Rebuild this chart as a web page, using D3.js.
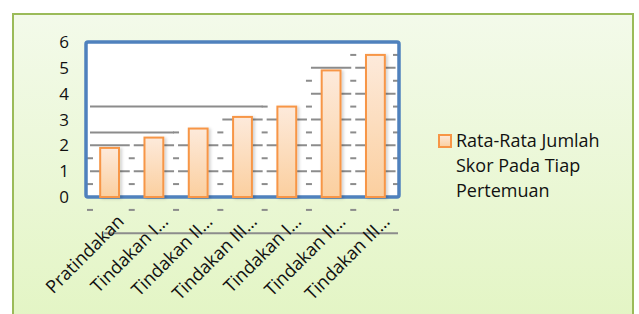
<!DOCTYPE html>
<html>
<head>
<meta charset="utf-8">
<script src="https://cdn.jsdelivr.net/npm/d3@7"></script>
<style>
  body { margin: 0; background: #fff; }
  text { font-family: "Open Sans", "Noto Sans", sans-serif; fill: #111; }
</style>
</head>
<body>
<svg id="chart" width="639" height="314"></svg>
<script>
// chart values
const categories = ['Pratindakan', 'Tindakan I…', 'Tindakan II…', 'Tindakan III…',
  'Tindakan I…', 'Tindakan II…', 'Tindakan III…'];
const scores = [1.9, 2.3, 2.65, 3.1, 3.5, 4.9, 5.5];
const yTicks = [0, 1, 2, 3, 4, 5, 6];
const legendLines = ['Rata-Rata Jumlah', 'Skor Pada Tiap', 'Pertemuan'];

const svg = d3.select('#chart');
const defs = svg.append('defs');

const bg = defs.append('linearGradient').attr('id', 'bg')
  .attr('x1', 0).attr('y1', 0).attr('x2', 0).attr('y2', 1);
bg.append('stop').attr('offset', '0%').attr('stop-color', '#f3faea');
bg.append('stop').attr('offset', '100%').attr('stop-color', '#e3f5c4');

const barGrad = defs.append('linearGradient').attr('id', 'barGrad')
  .attr('x1', 0).attr('y1', 0).attr('x2', 0).attr('y2', 1);
barGrad.append('stop').attr('offset', '0%').attr('stop-color', '#fdeadb');
barGrad.append('stop').attr('offset', '100%').attr('stop-color', '#fbcf9f');

const shadow = defs.append('filter').attr('id', 'shadow')
  .attr('x', '-30%').attr('y', '-10%').attr('width', '160%').attr('height', '130%');
shadow.append('feDropShadow').attr('dx', 2).attr('dy', 1).attr('stdDeviation', 1.5)
  .attr('flood-color', '#000').attr('flood-opacity', 0.18);

// outer chart frame
svg.append('rect')
  .attr('x', 13).attr('y', 14).attr('width', 620).attr('height', 310)
  .attr('fill', 'url(#bg)').attr('stroke', '#9bbb59').attr('stroke-width', 2);

const plot = {left: 86, right: 399, top: 42, bottom: 197};

const x = d3.scaleBand()
  .domain(d3.range(categories.length))
  .range([plot.left, plot.right])
  .paddingInner(0.575)
  .paddingOuter(0.32);

const y = d3.scaleLinear().domain([0, 6]).range([plot.bottom, plot.top]);

// plot area
svg.append('rect')
  .attr('x', plot.left).attr('y', plot.top)
  .attr('width', plot.right - plot.left).attr('height', plot.bottom - plot.top)
  .attr('fill', '#fff');

const grid = svg.append('g').attr('stroke', '#8c8c8c').attr('stroke-width', 2);
const step = x.step();
const gap = step - x.bandwidth();

// integer gridlines, broken up around the bars
yTicks.slice(1, -1).forEach(function(k) {
  scores.forEach(function(v, i) {
    if (v < k - 0.3) return;
    grid.append('line')
      .attr('x1', Math.max(plot.left + 4, x(i) - gap / 2 + 2))
      .attr('x2', Math.min(plot.right - 3, x(i) + x.bandwidth() + gap / 2 - 2))
      .attr('y1', y(k)).attr('y2', y(k));
  });
});

// short dashes at the half steps in the gaps between bars
const halfSteps = [-0.5, 0.5, 1.5, 2.5, 3.5, 4.5, 5.5];
d3.range(categories.length + 1).forEach(function(g) {
  const gx = g === 0 ? plot.left + 4 : (g === categories.length ? plot.right - 3 :
    x(g) - gap / 2);
  const near = d3.max([scores[g - 1] || 0, scores[g] || 0]);
  halfSteps.forEach(function(h) {
    if (h > near) return;
    grid.append('line')
      .attr('x1', gx - 3).attr('x2', gx + 3)
      .attr('y1', y(h)).attr('y2', y(h));
  });
});

// leftover long gridlines
const ghostValues = [2.5, 3.5];
const ghostUntil = [1, 3];
ghostValues.forEach(function(v, i) {
  grid.append('line')
    .attr('x1', plot.left + 4)
    .attr('x2', x(ghostUntil[i]) + x.bandwidth() + gap / 2 - 2)
    .attr('y1', y(v)).attr('y2', y(v));
});
grid.append('line')
  .attr('x1', x(0) + 4).attr('x2', plot.right - 1)
  .attr('y1', y(-1.4)).attr('y2', y(-1.4));

// plot border
svg.append('rect')
  .attr('x', plot.left).attr('y', plot.top)
  .attr('width', plot.right - plot.left).attr('height', plot.bottom - plot.top)
  .attr('rx', 2)
  .attr('fill', 'none').attr('stroke', '#4f81bd').attr('stroke-width', 3.5);

// bars
svg.append('g').selectAll('rect')
  .data(scores)
  .join('rect')
  .attr('x', (d, i) => x(i))
  .attr('y', d => y(d))
  .attr('width', x.bandwidth())
  .attr('height', d => y(0) - y(d))
  .attr('fill', 'url(#barGrad)')
  .attr('stroke', '#f79646')
  .attr('stroke-width', 2)
  .attr('filter', 'url(#shadow)');

// y axis labels
svg.append('g').selectAll('text')
  .data(yTicks)
  .join('text')
  .attr('x', 69)
  .attr('y', d => y(d))
  .attr('dy', '0.36em')
  .attr('text-anchor', 'end')
  .style('font-size', '17px')
  .text(d => d);

// x axis labels
svg.append('g').selectAll('text')
  .data(categories)
  .join('text')
  .attr('transform', (d, i) =>
    'translate(' + (x(i) + x.bandwidth() / 2 + 6) + ',' + 213 + ') rotate(-45)')
  .attr('text-anchor', 'end')
  .attr('dy', '0.75em')
  .style('font-size', '18px')
  .text(d => d);

// legend
const legend = svg.append('g');
legend.append('rect')
  .attr('x', 439).attr('y', 135).attr('width', 12).attr('height', 12)
  .attr('fill', 'url(#barGrad)').attr('stroke', '#f79646').attr('stroke-width', 2);
legend.selectAll('text')
  .data(legendLines)
  .join('text')
  .attr('x', 456)
  .attr('y', (d, i) => 141 + i * 25)
  .attr('dy', '0.36em')
  .style('font-size', '18px')
  .text(d => d);
</script>
</body>
</html>
